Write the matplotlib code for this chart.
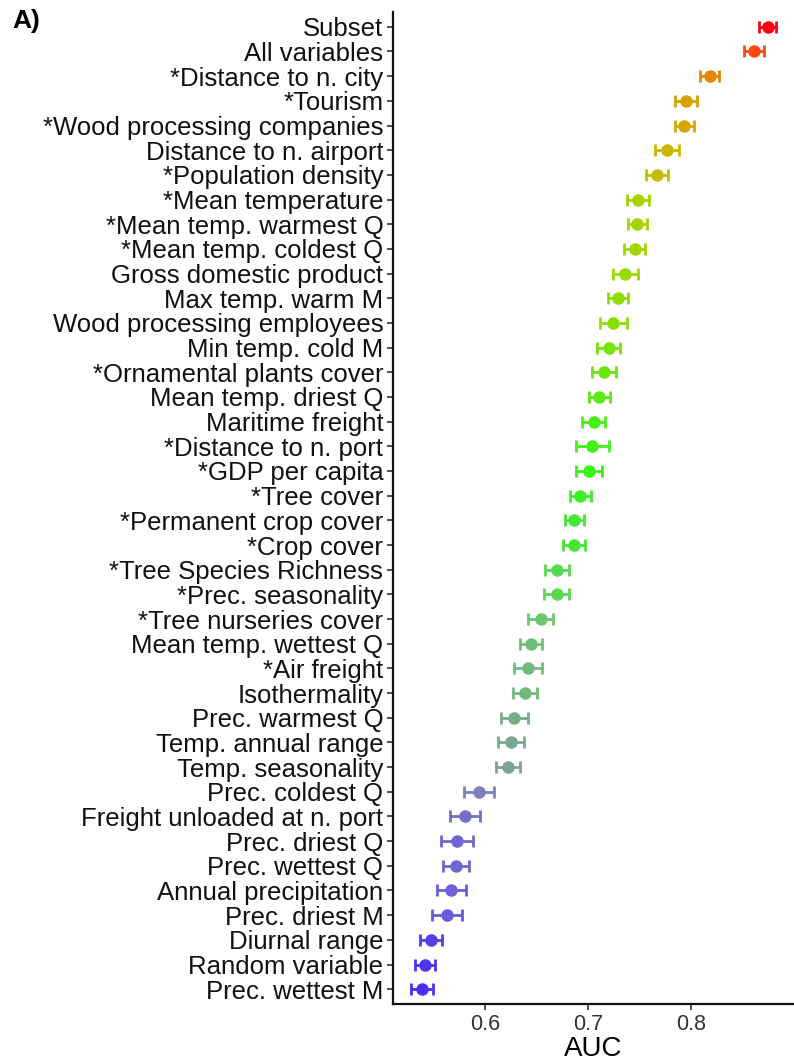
import matplotlib
matplotlib.use("Agg")
import matplotlib.pyplot as plt
import numpy as np
from matplotlib.colors import LinearSegmentedColormap

# variables, ordered from highest to lowest AUC
variables = [
    "Subset", "All variables", "*Distance to n. city", "*Tourism",
    "*Wood processing companies", "Distance to n. airport", "*Population density",
    "*Mean temperature", "*Mean temp. warmest Q", "*Mean temp. coldest Q",
    "Gross domestic product", "Max temp. warm M", "Wood processing employees",
    "Min temp. cold M", "*Ornamental plants cover", "Mean temp. driest Q",
    "Maritime freight", "*Distance to n. port", "*GDP per capita", "*Tree cover",
    "*Permanent crop cover", "*Crop cover", "*Tree Species Richness",
    "*Prec. seasonality", "*Tree nurseries cover", "Mean temp. wettest Q",
    "*Air freight", "Isothermality", "Prec. warmest Q", "Temp. annual range",
    "Temp. seasonality", "Prec. coldest Q", "Freight unloaded at n. port",
    "Prec. driest Q", "Prec. wettest Q", "Annual precipitation", "Prec. driest M",
    "Diurnal range", "Random variable", "Prec. wettest M",
]

auc = [
    0.8745, 0.861, 0.818, 0.795, 0.7935, 0.777, 0.767,
    0.7485, 0.7476, 0.7453, 0.736, 0.7294, 0.7246, 0.720,
    0.7152, 0.711, 0.7055, 0.7042, 0.7013, 0.6926, 0.6867,
    0.6861, 0.6696, 0.6696, 0.6541, 0.645, 0.6417, 0.639,
    0.6282, 0.625, 0.6223, 0.5939, 0.5806, 0.5728, 0.5718,
    0.5673, 0.5634, 0.5473, 0.5418, 0.5391,
]

auc_err = [
    0.0084, 0.0095, 0.0092, 0.0104, 0.0094, 0.0118, 0.0104,
    0.0105, 0.0092, 0.0100, 0.0121, 0.0099, 0.0130, 0.0112,
    0.0118, 0.0105, 0.0112, 0.0157, 0.0126, 0.0105, 0.0094,
    0.0107, 0.0115, 0.0121, 0.0120, 0.0107, 0.0136, 0.0118,
    0.0131, 0.0128, 0.0120, 0.0146, 0.0147, 0.0152, 0.0129,
    0.0142, 0.0147, 0.0107, 0.0100, 0.0108,
]

# colour by AUC: blue -> grey -> green -> yellow -> red
vmin, vmax = 0.539, 0.875
anchors = [
    (0.539, "#4a2ef6"), (0.565, "#6a5ed8"), (0.594, "#7c82b4"),
    (0.622, "#7aa592"), (0.655, "#6ccb6c"), (0.70, "#33f51a"),
    (0.725, "#8ae000"), (0.748, "#a6d400"), (0.770, "#c6bc00"),
    (0.795, "#d8a400"), (0.818, "#e28a00"), (0.861, "#ff4a0a"),
    (0.875, "#ff0010"),
]
cmap = LinearSegmentedColormap.from_list(
    "auc", [((v - vmin) / (vmax - vmin), c) for v, c in anchors])

plt.rcParams["font.family"] = ["Liberation Sans", "DejaVu Sans"]

fig = plt.figure(figsize=(7.94, 10.64), dpi=100)
ax = fig.add_axes([393 / 794, 60 / 1064, 400 / 794, 992 / 1064])

y = np.arange(len(variables))
for yi, m, e in zip(y, auc, auc_err):
    col = cmap((m - vmin) / (vmax - vmin))
    ax.errorbar(m, yi, xerr=e, fmt="o", color=col, ms=8, mec=col,
                elinewidth=2, capsize=4.5, capthick=2)

ax.set_ylim(len(variables) - 0.4, -0.6)
ax.set_xlim(0.5107, 0.899)
ax.set_yticks(y)
ax.set_yticklabels(variables, fontsize=18.5, color="#111111")
ax.set_xticks([0.6, 0.7, 0.8])
ax.set_xticklabels(["0.6", "0.7", "0.8"], fontsize=15.5, color="#333333")
ax.set_xlabel("AUC", fontsize=20, labelpad=1)

for s in ["top", "right"]:
    ax.spines[s].set_visible(False)
for s in ["left", "bottom"]:
    ax.spines[s].set_linewidth(1.6)
    ax.spines[s].set_color("#111111")
ax.tick_params(axis="both", length=4, width=1.2, color="#333333")
ax.tick_params(axis="y", pad=3)
ax.tick_params(axis="x", pad=3)

fig.text(12 / 794, 1 - 21 / 1064, "A)", fontsize=19, fontweight="bold",
         va="center", ha="left")

fig.savefig("out.png", dpi=100)
